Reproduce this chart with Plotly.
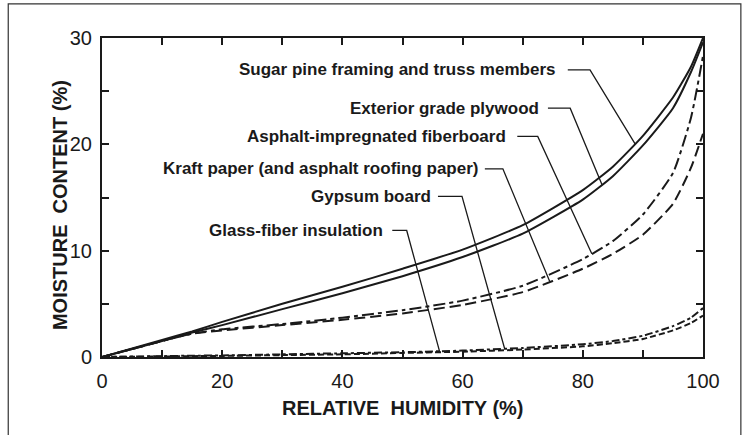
import numpy as np
import plotly.graph_objects as go

# Relative humidity grid (%) shared by all sorption curves
rh = [0, 10, 15, 20, 30, 40, 50, 60, 70, 80, 85, 90, 95, 98, 100]

# Equilibrium moisture content (%) for each material
sugar_pine = [0, 1.6, 2.4, 3.3, 5.0, 6.6, 8.3, 10.1, 12.4, 15.7, 17.9, 20.8, 24.4, 27.3, 30.0]
plywood = [0, 1.5, 2.3, 3.0, 4.5, 6.0, 7.6, 9.4, 11.6, 14.8, 17.0, 19.9, 23.4, 26.8, 29.6]
fiberboard = [0, 1.5, 2.2, 2.6, 3.1, 3.7, 4.4, 5.3, 6.7, 9.2, 10.9, 13.4, 17.3, 22.5, 28.3]
kraft_paper = [0, 1.5, 2.2, 2.5, 3.0, 3.5, 4.1, 4.9, 6.1, 8.3, 9.7, 11.5, 14.4, 17.8, 21.0]
gypsum = [0, 0.08, 0.12, 0.15, 0.25, 0.35, 0.45, 0.6, 0.85, 1.2, 1.5, 2.0, 2.9, 3.7, 4.6]
glass_fiber = [0, 0.05, 0.08, 0.1, 0.18, 0.25, 0.38, 0.5, 0.7, 1.0, 1.3, 1.7, 2.5, 3.2, 3.9]

labels = [
    "Sugar pine framing and truss members",
    "Exterior grade plywood",
    "Asphalt-impregnated fiberboard",
    "Kraft paper (and asphalt roofing paper)",
    "Gypsum board",
    "Glass-fiber insulation",
]
series = [sugar_pine, plywood, fiberboard, kraft_paper, gypsum, glass_fiber]
dashes = ["solid", "solid", "12px,4px,4px,4px", "11px,5px", "8px,3px,3px,3px", "6px,3px"]

# Callout layout: label text end, leader elbow and the RH where each leader meets its curve
label_x = [75.7, 73.0, 67.6, 62.9, 55.1, 47.1]
label_y = [27.0, 23.4, 20.75, 17.7, 15.1, 11.9]
elbow_start = [77.5, 74.2, 69.1, 63.7, 55.9, 48.3]
elbow_end = [81.2, 77.9, 72.5, 66.7, 59.9, 50.7]
anchor_rh = [88.7, 83.2, 81.5, 74.5, 67.0, 56.2]

ink = "#1a1a1a"
fig = go.Figure()

for vals, dash in zip(series, dashes):
    fig.add_trace(go.Scatter(
        x=rh, y=vals, mode="lines",
        line=dict(color=ink, width=2, dash=dash, shape="spline", smoothing=0.5),
        showlegend=False, hoverinfo="skip",
    ))

for name, vals, lx, ly, x0, x1, ax in zip(labels, series, label_x, label_y,
                                           elbow_start, elbow_end, anchor_rh):
    ay = float(np.interp(ax, rh, vals))
    fig.add_trace(go.Scatter(
        x=[x0, x1, ax], y=[ly, ly, ay], mode="lines",
        line=dict(color=ink, width=1.3),
        showlegend=False, hoverinfo="skip",
    ))
    fig.add_annotation(
        x=lx, y=ly, xref="x", yref="y", text=name, showarrow=False,
        xanchor="right", yanchor="middle",
        font=dict(family="Liberation Sans, Arial, sans-serif", size=17,
                  color=ink, weight="bold"),
    )

x_ticks = list(range(0, 101, 10))
x_ticktext = [str(v) if v % 20 == 0 else "" for v in x_ticks]
y_ticks = list(range(0, 31, 5))
y_ticktext = [str(v) if v % 10 == 0 else "" for v in y_ticks]

axis_common = dict(
    showgrid=False, zeroline=False, showline=True, linecolor=ink, linewidth=2,
    mirror="allticks", ticks="inside", ticklen=7, tickwidth=1.5, tickcolor=ink,
    tickfont=dict(family="Liberation Sans, Arial, sans-serif", size=20, color=ink),
)

fig.update_layout(
    width=745, height=435,
    margin=dict(l=102, r=42, t=38, b=78),
    paper_bgcolor="white", plot_bgcolor="white",
    xaxis=dict(range=[0, 100], tickvals=x_ticks, ticktext=x_ticktext,
               ticklabelstandoff=5, **axis_common),
    yaxis=dict(range=[0, 30], tickvals=y_ticks, ticktext=y_ticktext,
               ticklabelstandoff=4, **axis_common),
    shapes=[dict(type="rect", xref="paper", yref="paper",
                 x0=-0.156, x1=1.063, y0=-0.3, y1=1.107,
                 line=dict(color="#333333", width=1.2))],
)

title_font = dict(family="Liberation Sans, Arial, sans-serif", size=20,
                  color=ink, weight="bold")
fig.add_annotation(x=0.5, y=-0.16, xref="paper", yref="paper",
                   text="RELATIVE  HUMIDITY (%)", showarrow=False,
                   xanchor="center", yanchor="middle", font=title_font)
fig.add_annotation(x=-0.07, y=0.476, xref="paper", yref="paper",
                   text="MOISTURE  CONTENT (%)", showarrow=False, textangle=-90,
                   xanchor="center", yanchor="middle", font=title_font)

fig.write_html("out.html")
